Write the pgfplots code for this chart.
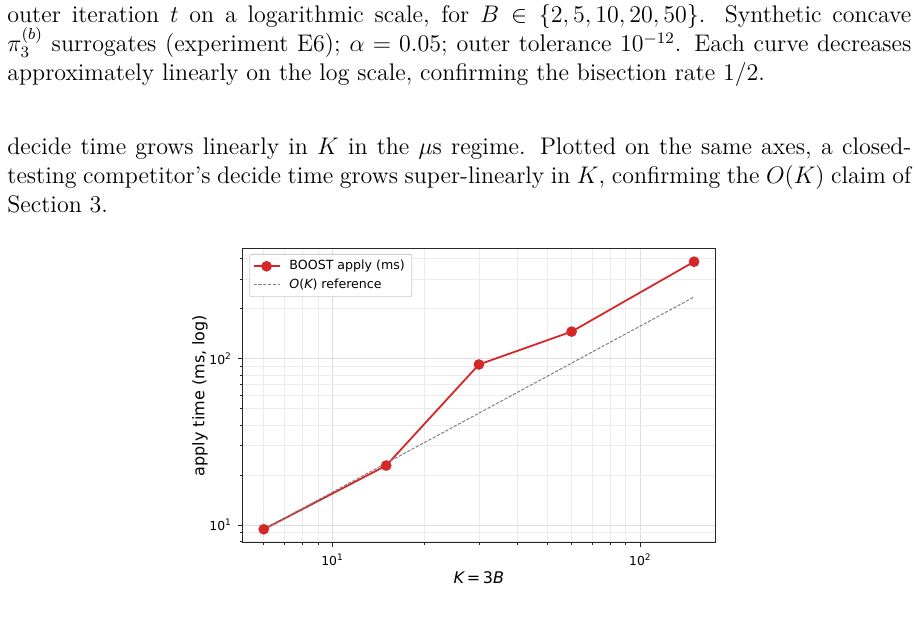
\documentclass[border=0pt]{standalone}
\usepackage{fontspec}
\usepackage{pgfplots}
\pgfplotsset{compat=1.18}
\newfontfamily\dejavu{DejaVu Sans}
\definecolor{tabred}{RGB}{214,39,40}
% legend samples: short line with a centred marker, plain short line
\pgfplotsset{
  markleg/.style={legend image code/.code={\draw[mark repeat=2, mark phase=2, ##1] plot coordinates {(0pt,0pt) (6.5pt,0pt) (13pt,0pt)};\path (15.5pt,0pt);}},
  lineleg/.style={legend image code/.code={\draw[##1] (0pt,0pt) -- (13pt,0pt);\path (15.5pt,0pt);}},
}
% tick label: 10 with a raised exponent
\newcommand{\decade}[1]{10\raisebox{0.42em}{\fontsize{4.5}{5}\selectfont #1}}
% one justified line of body text
\newcommand{\jline}[2]{\node[anchor=base west, inner sep=0pt] at (3.5pt,#1) {\makebox[452pt][s]{#2}};}
\newcommand{\lline}[2]{\node[anchor=base west, inner sep=0pt] at (3.5pt,#1) {#2};}
\begin{document}
\begin{tikzpicture}
\useasboundingbox (0,0) rectangle (459pt,-312.5pt);
\begingroup
\fontsize{12}{14.5}\selectfont
\jline{-11.5pt}{outer iteration $t$ on a logarithmic scale, for $B \in \{2,5,10,20,50\}$. Synthetic concave}
\jline{-26pt}{$\pi_3^{(b)}$ surrogates (experiment E6); $\alpha = 0.05$; outer tolerance $10^{-12}$. Each curve decreases}
\lline{-40.5pt}{approximately linearly on the log scale, confirming the bisection rate $1/2$.}
\jline{-77.5pt}{decide time grows linearly in $K$ in the $\mu$s regime. Plotted on the same axes, a closed-}
\jline{-92pt}{testing competitor's decide time grows super-linearly in $K$, confirming the $O(K)$ claim of}
\lline{-106.5pt}{Section 3.}
\endgroup
\begin{axis}[
  at={(121pt,-271.35pt)}, anchor=south west,
  scale only axis, width=236.85pt, height=147.2pt,
  xmode=log, ymode=log,
  xmin=5.1, xmax=176.3, ymin=7.83, ymax=463,
  xtick={10,100}, xticklabels={\decade{1},\decade{2}},
  ytick={10,100}, yticklabels={\decade{1},\decade{2}},
  minor xtick={6,7,8,9,20,30,40,50,60,70,80,90},
  minor ytick={8,9,20,30,40,50,60,70,80,90,200,300,400},
  grid=both,
  major grid style={black!13, line width=0.4pt},
  minor grid style={black!8, line width=0.4pt},
  axis line style={black!85, line width=0.45pt},
  tick align=outside, tick pos=left,
  major tick length=2pt, minor tick length=1.2pt,
  tick style={black!85, line width=0.4pt},
  ticklabel style={font=\dejavu\fontsize{6.2}{7}\selectfont},
  label style={font=\dejavu\fontsize{8}{9.5}\selectfont},
  xlabel={{\itshape K}\,=\,3{\itshape B}},
  ylabel={apply time (ms, log)},
  xlabel style={at={(axis description cs:0.5,-0.118)}, anchor=center},
  ylabel style={at={(axis description cs:-0.0887,0.5)}, anchor=center},
  legend cell align=left,
  legend style={at={(0.0154,0.9806)}, anchor=north west,
    draw=black!20, rounded corners=1pt, fill=white,
    font=\dejavu\fontsize{6.3}{7}\selectfont,
    inner xsep=1.5pt, inner ysep=0.8pt, row sep=-1pt},
]
\addplot[tabred, line width=0.9pt, mark=*, mark size=2.2pt,
  mark options={solid, fill=tabred, draw=tabred}, markleg]
  table {
K  t
6    9.43
15   22.8
30   92.5
60   145.9
150  384.6
};
\addlegendentry{BOOST apply (ms)}
\addplot[gray, line width=0.5pt, dash pattern=on 1.6pt off 0.8pt, lineleg]
  table {
K  r
6    9.43
15   23.575
30   47.15
60   94.3
150  235.75
};
\addlegendentry{{\itshape O}({\itshape K}) reference}
\end{axis}
\end{tikzpicture}
\end{document}
